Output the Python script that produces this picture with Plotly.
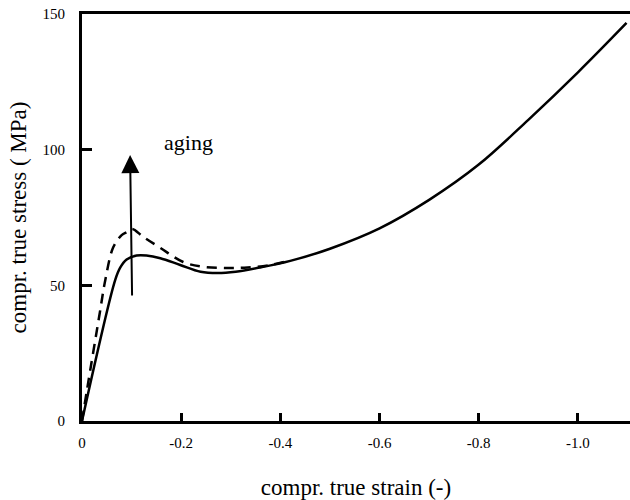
import plotly.graph_objects as go

# compressive true strain (negative) and true stress (MPa)
solid_strain = [0, -0.067, -0.077, -0.09, -0.11, -0.13, -0.158, -0.198, -0.239, -0.273,
                -0.31, -0.36, -0.42, -0.50, -0.60, -0.70, -0.80, -0.90, -1.00, -1.098]
solid_stress = [0, 52, 56.5, 59.5, 61, 61, 60, 57.5, 55, 54.5,
                55, 56.6, 59, 63.5, 71, 81.5, 94.5, 111, 128.5, 146.7]

dashed_strain = [0, -0.01, -0.036, -0.047, -0.063, -0.08, -0.091, -0.101, -0.124, -0.158,
                 -0.204, -0.245, -0.293, -0.334, -0.38, -0.42]
dashed_stress = [0, 11.4, 40, 52, 64, 68.5, 69.7, 70.8, 67.8, 63.8,
                 58.6, 56.8, 56.4, 56.6, 57.5, 59.2]

x_ticks = [0, -0.2, -0.4, -0.6, -0.8, -1.0]
x_ticktext = ["0", "-0.2", "-0.4", "-0.6", "-0.8", "-1.0"]
y_ticks = [0, 50, 100, 150]
y_ticktext = ["0", "50", "100", "150"]

arrow_start = (-0.101, 45.7)
arrow_end = (-0.097, 98)
label_pos = (-0.214, 102.5)

FONT = "Liberation Serif"

fig = go.Figure()
fig.add_trace(go.Scatter(x=dashed_strain, y=dashed_stress, mode="lines",
                         line=dict(color="black", width=2.5, dash="10px,7px", shape="spline"),
                         showlegend=False, hoverinfo="skip"))
fig.add_trace(go.Scatter(x=solid_strain, y=solid_stress, mode="lines",
                         line=dict(color="black", width=2.5, shape="spline"),
                         showlegend=False, hoverinfo="skip"))

fig.add_annotation(x=arrow_end[0], y=arrow_end[1], ax=arrow_start[0], ay=arrow_start[1],
                   xref="x", yref="y", axref="x", ayref="y", text="", showarrow=True,
                   arrowhead=2, arrowsize=1.8, arrowwidth=2, arrowcolor="black")
fig.add_annotation(x=label_pos[0], y=label_pos[1], xref="x", yref="y", text="aging",
                   showarrow=False, font=dict(family=FONT, size=22, color="black"))

fig.update_layout(
    width=630, height=500,
    margin=dict(l=82, r=0, t=14, b=79),
    plot_bgcolor="white", paper_bgcolor="white",
    font=dict(family=FONT, color="black"),
    xaxis=dict(range=[0, -1.105], showgrid=False, zeroline=False,
               showline=True, linewidth=3, linecolor="black", mirror=True,
               ticks="inside", ticklen=8, tickwidth=2.5, tickcolor="black",
               tickvals=x_ticks, ticktext=x_ticktext,
               tickfont=dict(family=FONT, size=15, color="black"), ticklabelstandoff=6,
               title=dict(text="compr. true strain (-)",
                          font=dict(family=FONT, size=23, color="black"),
                          standoff=30)),
    yaxis=dict(range=[0, 150], showgrid=False, zeroline=False,
               showline=True, linewidth=3, linecolor="black",
               ticks="inside", ticklen=10, tickwidth=2.5, tickcolor="black",
               tickvals=y_ticks, ticktext=y_ticktext,
               tickfont=dict(family=FONT, size=15, color="black"), ticklabelstandoff=11,
               title=dict(text="compr. true stress ( MPa)",
                          font=dict(family=FONT, size=23, color="black"),
                          standoff=10)),
)

fig.write_html("out.html")
